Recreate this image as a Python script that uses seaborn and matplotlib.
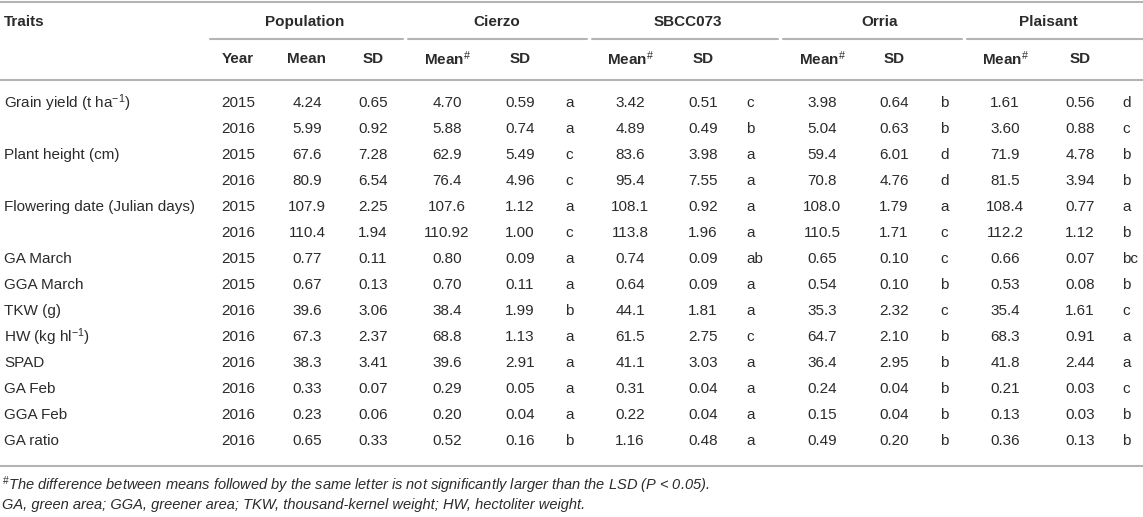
import seaborn as sns
import numpy as np
import pandas as pd
import matplotlib.pyplot as plt

traits = ['Grain yield (t ha$^{-1}$)', '', 'Plant height (cm)', '', 'Flowering date (Julian days)', '',
          'GA March', 'GGA March', 'TKW (g)', 'HW (kg hl$^{-1}$)', 'SPAD', 'GA Feb', 'GGA Feb', 'GA ratio']
years = ['2015', '2016', '2015', '2016', '2015', '2016', '2015', '2015', '2016', '2016', '2016', '2016', '2016', '2016']

pop_mean = ['4.24', '5.99', '67.6', '80.9', '107.9', '110.4', '0.77', '0.67', '39.6', '67.3', '38.3', '0.33', '0.23', '0.65']
pop_sd = ['0.65', '0.92', '7.28', '6.54', '2.25', '1.94', '0.11', '0.13', '3.06', '2.37', '3.41', '0.07', '0.06', '0.33']

cierzo_mean = ['4.70', '5.88', '62.9', '76.4', '107.6', '110.92', '0.80', '0.70', '38.4', '68.8', '39.6', '0.29', '0.20', '0.52']
cierzo_sd = ['0.59', '0.74', '5.49', '4.96', '1.12', '1.00', '0.09', '0.11', '1.99', '1.13', '2.91', '0.05', '0.04', '0.16']
cierzo_let = ['a', 'a', 'c', 'c', 'a', 'c', 'a', 'a', 'b', 'a', 'a', 'a', 'a', 'b']

sbcc_mean = ['3.42', '4.89', '83.6', '95.4', '108.1', '113.8', '0.74', '0.64', '44.1', '61.5', '41.1', '0.31', '0.22', '1.16']
sbcc_sd = ['0.51', '0.49', '3.98', '7.55', '0.92', '1.96', '0.09', '0.09', '1.81', '2.75', '3.03', '0.04', '0.04', '0.48']
sbcc_let = ['c', 'b', 'a', 'a', 'a', 'a', 'ab', 'a', 'a', 'c', 'a', 'a', 'a', 'a']

orria_mean = ['3.98', '5.04', '59.4', '70.8', '108.0', '110.5', '0.65', '0.54', '35.3', '64.7', '36.4', '0.24', '0.15', '0.49']
orria_sd = ['0.64', '0.63', '6.01', '4.76', '1.79', '1.71', '0.10', '0.10', '2.32', '2.10', '2.95', '0.04', '0.04', '0.20']
orria_let = ['b', 'b', 'd', 'd', 'a', 'c', 'c', 'b', 'c', 'b', 'b', 'b', 'b', 'b']

plais_mean = ['1.61', '3.60', '71.9', '81.5', '108.4', '112.2', '0.66', '0.53', '35.4', '68.3', '41.8', '0.21', '0.13', '0.36']
plais_sd = ['0.56', '0.88', '4.78', '3.94', '0.77', '1.12', '0.07', '0.08', '1.61', '0.91', '2.44', '0.03', '0.03', '0.13']
plais_let = ['d', 'c', 'b', 'b', 'a', 'b', 'bc', 'b', 'c', 'a', 'a', 'c', 'b', 'b']

groups = ['Population', 'Cierzo', 'SBCC073', 'Orria', 'Plaisant']

footnote1 = '$^{\\#}$The difference between means followed by the same letter is not significantly larger than the LSD (P < 0.05).'
footnote2 = 'GA, green area; GGA, greener area; TKW, thousand-kernel weight; HW, hectoliter weight.'

df = pd.DataFrame({
    'trait': traits, 'year': years, 'pop_mean': pop_mean, 'pop_sd': pop_sd,
    'c_mean': cierzo_mean, 'c_sd': cierzo_sd, 'c_let': cierzo_let,
    's_mean': sbcc_mean, 's_sd': sbcc_sd, 's_let': sbcc_let,
    'o_mean': orria_mean, 'o_sd': orria_sd, 'o_let': orria_let,
    'p_mean': plais_mean, 'p_sd': plais_sd, 'p_let': plais_let,
})

sns.set_theme(style='white')
plt.rcParams['font.family'] = ['Liberation Sans', 'DejaVu Sans']
plt.rcParams['mathtext.fontset'] = 'custom'
plt.rcParams['mathtext.rm'] = 'Liberation Sans'
plt.rcParams['mathtext.it'] = 'Liberation Sans:italic'
plt.rcParams['mathtext.bf'] = 'Liberation Sans:bold'

TXT = '#2b2b2b'
LINE = '#b4b4b4'
FS = 11

fig = plt.figure(figsize=(11.43, 5.17), dpi=100)
ax = fig.add_axes([0, 0, 1, 1])
ax.set_xlim(0, 1143)
ax.set_ylim(517, 0)
ax.axis('off')

# column layout (pixels)
x_trait = 4
x_year, x_pmean, x_psd = 238, 307, 373
cult_cols = [(447, 520, 565), (630, 703, 746), (822, 894, 940), (1005, 1080, 1122)]
group_x = [305, 497, 688, 880, 1048]
group_lines = [(210, 403), (408, 587), (592, 778), (783, 962), (967, 1143)]

y_group, y_sub = 22, 59
y0, dy = 103, 26

# rules
ax.plot([0, 1143], [2, 2], color=LINE, lw=1.5)
ax.plot([0, 1143], [80, 80], color=LINE, lw=1.5)
ax.plot([0, 1143], [466, 466], color=LINE, lw=1.5)
for a, b in group_lines:
    ax.plot([a, b], [39, 39], color=LINE, lw=1.5)

# header
ax.text(x_trait, y_group, 'Traits', ha='left', va='center', fontsize=FS, fontweight='bold', color=TXT)
for gx, g in zip(group_x, groups):
    ax.text(gx, y_group, g, ha='center', va='center', fontsize=FS, fontweight='bold', color=TXT)
for x, lab in [(x_year, 'Year'), (x_pmean, 'Mean'), (x_psd, 'SD')]:
    ax.text(x, y_sub, lab, ha='center', va='center', fontsize=FS, fontweight='bold', color=TXT)
for mx, sx, lx in cult_cols:
    ax.text(mx, y_sub, r'$\mathbf{Mean}^{\#}$', ha='center', va='center', fontsize=FS, color=TXT)
    ax.text(sx, y_sub, 'SD', ha='center', va='center', fontsize=FS, fontweight='bold', color=TXT)

# body
cult_keys = ['c', 's', 'o', 'p']
for i, row in df.iterrows():
    y = y0 + i * dy
    ax.text(x_trait, y, row['trait'], ha='left', va='center', fontsize=FS, color=TXT)
    ax.text(x_year, y, row['year'], ha='center', va='center', fontsize=FS, color=TXT)
    ax.text(x_pmean, y, row['pop_mean'], ha='center', va='center', fontsize=FS, color=TXT)
    ax.text(x_psd, y, row['pop_sd'], ha='center', va='center', fontsize=FS, color=TXT)
    for k, (mx, sx, lx) in zip(cult_keys, cult_cols):
        ax.text(mx, y, row[k + '_mean'], ha='center', va='center', fontsize=FS, color=TXT)
        ax.text(sx, y, row[k + '_sd'], ha='center', va='center', fontsize=FS, color=TXT)
        ax.text(lx, y, row[k + '_let'], ha='left', va='center', fontsize=FS, color=TXT)

# footnotes
ax.text(2, 485, footnote1, ha='left', va='center', fontsize=10.5, style='italic', color=TXT)
ax.text(2, 505, footnote2, ha='left', va='center', fontsize=10.5, style='italic', color=TXT)

fig.savefig('out.png', dpi=100, facecolor='white')
